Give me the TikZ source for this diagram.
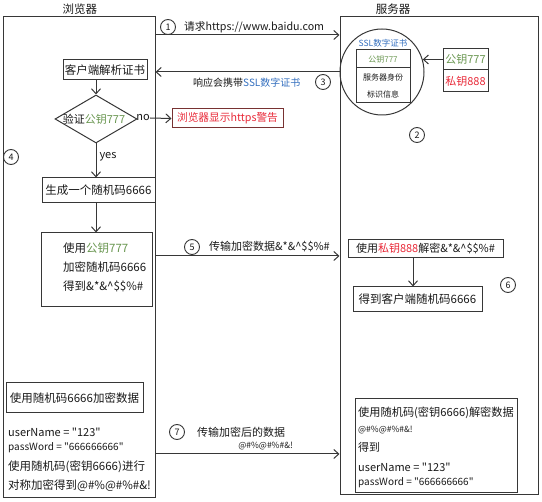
\documentclass[tikz,border=0pt]{standalone}
\usepackage{fontspec}
\setmainfont{Noto Sans CJK SC}[Ligatures=TeXOff]
\usetikzlibrary{arrows.meta,shapes.geometric}
\definecolor{ln}{RGB}{55,55,55}
\definecolor{kgreen}{RGB}{105,150,80}
\definecolor{kred}{RGB}{232,40,55}
\definecolor{kblue}{RGB}{50,110,190}
\definecolor{wborder}{RGB}{120,50,50}
\newcommand{\qq}{\symbol{34}}
\begin{document}
\begin{tikzpicture}[x=1pt,y=-1pt,
  every node/.style={font=\fontsize{11}{13}\selectfont, text=black!90},
  box/.style={draw=ln, line width=1pt, rectangle, inner sep=0pt},
  num/.style={draw=ln, circle, line width=0.9pt, minimum size=15pt, inner sep=0pt, font=\fontsize{9}{9}\selectfont},
  arr/.style={draw=ln, line width=1pt, -{Straight Barb[length=5pt,width=9pt]}},
  txt/.style={inner sep=0pt, anchor=west},
  ctxt/.style={inner sep=0pt},
  big/.style={font=\fontsize{11.5}{13}\selectfont}]
\useasboundingbox (0,0) rectangle (542,502);
% titles
\node[ctxt, big] (tb) at (80,9) {浏览器};
\node[ctxt, big] (ts) at (393,9) {服务器};
% main boxes
\node[box, minimum width=152pt, minimum height=481pt] (browser) at (79,257.5) {};
\node[box, minimum width=198pt, minimum height=478pt] (server) at (439,256) {};
% step 1
\coordinate (y1) at (0,35);
\draw[arr] (browser.east |- y1) -- (server.west |- y1);
\node[num] (n1) at (168,27) {1};
\node[txt, font=\fontsize{10.7}{12}\selectfont] (t1) at (184,27) {请求https://www.baidu.com};
% SSL certificate
\node[draw=ln, line width=1pt, ellipse, minimum width=84pt, minimum height=86pt, inner sep=0pt] (ssl) at (382,72) {};
\node[ctxt, text=kblue, font=\fontsize{8.5}{9}\selectfont] (sslt) at (383,43) {SSL数字证书};
\node[box, minimum width=54pt, minimum height=18pt, text=kgreen, font=\fontsize{8}{9}\selectfont] (cpub) at (383,59) {公钥777};
\node[box, minimum width=54pt, minimum height=35pt, align=center, font=\fontsize{8}{17}\selectfont] (cid) at (383,85.5) {服务器身份\\标识信息};
\node[box, minimum width=45pt, minimum height=21pt, text=kgreen, font=\fontsize{11}{12}\selectfont] (pubR) at (465.5,59.5) {公钥777};
\node[box, minimum width=45pt, minimum height=22pt, text=kred, font=\fontsize{11}{12}\selectfont] (privR) at (465.5,81) {私钥888};
\draw[arr] (pubR.west) -- (pubR.west -| ssl.17);
% step 3
\coordinate (y3) at (0,72);
\draw[arr] (server.west |- y3) -- (browser.east |- y3);
\node[txt, font=\fontsize{10}{12}\selectfont] (t3) at (193,83) {响应会携带\textcolor{kblue}{SSL数字证书}};
\node[num] (n3) at (323,82) {3};
\node[num] (n2) at (417,135) {2};
% browser flow
\node[box, minimum width=84pt, minimum height=20pt, big] (parse) at (105,70) {客户端解析证书};
\node[draw=ln, line width=1pt, diamond, minimum width=82pt, minimum height=48pt, inner sep=0pt] (dia) at (96,119) {};
\node[ctxt, font=\fontsize{11}{13}\selectfont] (diat) at (94,119) {验证\textcolor{kgreen}{公钥777}};
\draw[arr] (parse.south -| dia.north) -- (dia.north);
\node[ctxt] (no) at (143,118) {no};
\node[box, draw=wborder, minimum width=111pt, minimum height=19pt, text=kred, font=\fontsize{10.7}{12}\selectfont] (warn) at (227.5,118.5) {浏览器显示https警告};
\draw[arr] (no.east) -- (warn.west);
\node[num] (n4) at (11,157) {4};
\node[ctxt] (yes) at (108,157) {yes};
\node[box, minimum width=113pt, minimum height=25pt, big] (gen) at (98.5,190.5) {生成一个随机码6666};
\draw[arr] (dia.south) -- (gen.north -| dia.south);
\node[box, minimum width=111pt, minimum height=74pt] (enc) at (96.5,270) {};
\node[txt, big] (e1) at (63,248) {使用\textcolor{kgreen}{公钥777}};
\node[txt, big] (e2) at (63,267) {加密随机码6666};
\node[txt, big] (e3) at (63,286) {得到\&*\&\textasciicircum\$\$\%\#};
\draw[arr] (gen.south -| dia.south) -- (enc.north -| dia.south);
% step 5
\coordinate (y5) at (0,256);
\draw[arr] (browser.east |- y5) -- (server.west |- y5);
\node[num] (n5) at (192,247) {5};
\node[txt] (t5) at (209,247) {传输加密数据\&*\&\textasciicircum\$\$\%\#};
\node[box, minimum width=155pt, minimum height=18pt] (dec) at (425.5,249) {使用\textcolor{kred}{私钥888}解密\&*\&\textasciicircum\$\$\%\#};
\node[box, minimum width=129pt, minimum height=25pt, big] (got) at (417.5,299.5) {得到客户端随机码6666};
\coordinate (x6) at (413,0);
\draw[arr] (dec.south -| x6) -- (got.north -| x6);
\node[num] (n6) at (508,285) {6};
% bottom left
\node[box, minimum width=137pt, minimum height=30pt, big] (encdata) at (74.5,398) {使用随机码6666加密数据};
\node[txt, font=\fontsize{11}{12}\selectfont] (b1) at (8,432) {userName = \qq123\qq};
\node[txt, font=\fontsize{10}{12}\selectfont] (b2) at (8,448) {passWord = \qq666666666\qq};
\node[txt, big] (b3) at (8,467) {使用随机码(密钥6666)进行};
\node[txt, big] (b4) at (8,486) {对称加密得到@\#\%@\#\%\#\&!};
% step 7
\coordinate (y7) at (0,454);
\draw[arr] (browser.east |- y7) -- (server.west |- y7);
\node[num] (n7) at (177,432) {7};
\node[txt] (t7) at (197,432) {传输加密后的数据};
\node[inner sep=0pt, anchor=east, font=\fontsize{8.5}{10}\selectfont] (t7b) at (293,446) {@\#\%@\#\%\#\&!};
% final server box
\node[box, minimum width=162pt, minimum height=94pt] (final) at (436,446) {};
\node[txt, font=\fontsize{11.2}{13}\selectfont] (f1) at (358,413) {使用随机码(密钥6666)解密数据};
\node[txt, font=\fontsize{8.5}{10}\selectfont] (f2) at (358,430) {@\#\%@\#\%\#\&!};
\node[txt] (f3) at (358,447) {得到};
\node[txt, font=\fontsize{11}{12}\selectfont] (f4) at (358,467) {userName = \qq123\qq};
\node[txt, font=\fontsize{10}{12}\selectfont] (f5) at (358,483) {passWord = \qq666666666\qq};
\end{tikzpicture}
\end{document}
